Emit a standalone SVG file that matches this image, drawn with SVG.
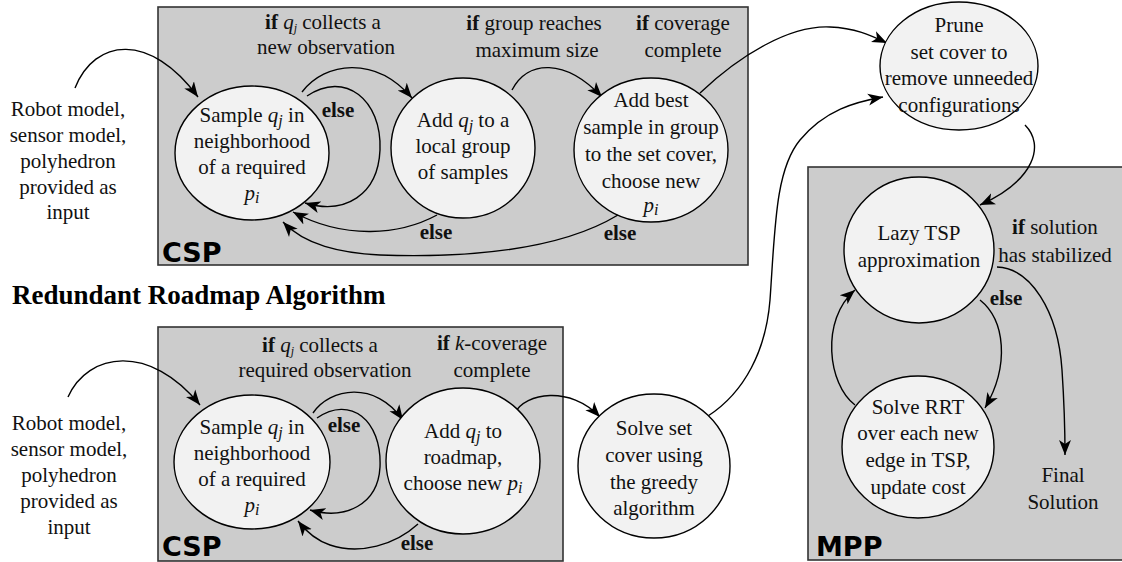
<svg xmlns="http://www.w3.org/2000/svg" width="1122" height="562" viewBox="0 0 1122 562">
<defs>
<marker id="arr" markerUnits="userSpaceOnUse" markerWidth="16" markerHeight="14" viewBox="0 0 16 14" refX="15" refY="7" orient="auto">
<path d="M0,1 L15,7 L0,13 L4,7 Z" fill="#000"/>
</marker>
<style>
.box{fill:#cccccc;stroke:#333;stroke-width:1.6}
.node{fill:#f2f2f2;stroke:#000;stroke-width:1.4}
.edge{fill:none;stroke:#000;stroke-width:1.4;marker-end:url(#arr)}
.t{font-family:'Liberation Serif','DejaVu Serif',serif;font-size:21px;fill:#111}
.c{text-anchor:middle}
.b{font-weight:bold}
.i{font-style:italic}
.sub{font-style:italic;font-size:16px}
.ssub{font-style:italic;font-size:12px}
.tag{font-family:'DejaVu Sans',sans-serif;font-weight:bold;font-size:27px;fill:#000}
.title{font-weight:bold;font-size:27px;fill:#000}
</style>
</defs>

<g id="boxes">
<rect id="csp-top" class="box" x="158" y="7" width="590" height="258"/>
<rect id="csp-bottom" class="box" x="158" y="327" width="405" height="234"/>
<rect id="mpp" class="box" x="808" y="167" width="330" height="393"/>
<text class="tag" x="162" y="262">CSP</text>
<text class="tag" x="162" y="556">CSP</text>
<text class="tag" x="816" y="556">MPP</text>
</g>

<g font-family="Liberation Serif, DejaVu Serif, serif" font-size="21">
<text class="t title" x="12" y="304">Redundant Roadmap Algorithm</text>

<g id="input-top">
<text class="t c" x="68" y="116">Robot model,</text>
<text class="t c" x="68" y="142">sensor model,</text>
<text class="t c" x="68" y="168">polyhedron</text>
<text class="t c" x="68" y="194">provided as</text>
<text class="t c" x="68" y="219">input</text>
</g>

<g id="input-bottom">
<text class="t c" x="69" y="430">Robot model,</text>
<text class="t c" x="69" y="456">sensor model,</text>
<text class="t c" x="69" y="482">polyhedron</text>
<text class="t c" x="69" y="508">provided as</text>
<text class="t c" x="69" y="534">input</text>
</g>

<g id="connectors">
<path class="edge" d="M75,88 C95,38 150,32 198,97"/>
<path class="edge" d="M302,92 C325,62 375,55 412,98"/>
<path class="edge" d="M307,96 C345,70 382,100 380,150 C378,195 345,215 305,203"/>
<path class="edge" d="M437,215 C400,235 345,240 293,212"/>
<path class="edge" d="M618,215 C560,250 470,258 380,255 C340,253 305,245 283,222"/>
<path class="edge" d="M512,90 C528,60 565,58 602,97"/>
<path class="edge" d="M700,93 C740,55 790,25 830,27 C855,28 870,35 887,43"/>
<path class="edge" d="M708,416 C745,392 766,350 770,300 C775,230 775,170 800,140 C825,110 855,102 883,97"/>
<path class="edge" d="M1025,125 C1045,145 1035,180 980,205"/>
<path class="edge" d="M997,267 C1030,268 1058,310 1062,370 C1064,400 1065,430 1065,455"/>
<path class="edge" d="M980,300 C1005,320 1010,365 985,408"/>
<path class="edge" d="M855,405 C828,385 820,320 855,290"/>
<path class="edge" d="M68,397 C88,352 150,343 200,405"/>
<path class="edge" d="M313,413 C330,388 375,380 403,420"/>
<path class="edge" d="M317,418 C350,395 382,420 380,467 C378,505 345,520 310,510"/>
<path class="edge" d="M418,524 C395,545 360,555 330,545 C315,540 305,530 298,521"/>
<path class="edge" d="M515,413 C525,393 570,385 600,417"/>
</g>

<g id="labels">
<text class="t c" x="323" y="29"><tspan class="b">if</tspan> <tspan class="i">q</tspan><tspan class="ssub" dy="3">j</tspan><tspan dy="-3"> collects a</tspan></text>
<text class="t c" x="326" y="54">new observation</text>
<text class="t c" x="534" y="30"><tspan class="b">if</tspan> group reaches</text>
<text class="t c" x="537" y="57">maximum size</text>
<text class="t c" x="683" y="30"><tspan class="b">if</tspan> coverage</text>
<text class="t c" x="683" y="57">complete</text>
<text class="t c b" x="338" y="117">else</text>
<text class="t c b" x="436" y="239">else</text>
<text class="t c b" x="620" y="240">else</text>
<text class="t c" x="1055" y="234"><tspan class="b">if</tspan> solution</text>
<text class="t c" x="1055" y="262">has stabilized</text>
<text class="t c b" x="1006" y="305">else</text>
<text class="t c" x="1063" y="482">Final</text>
<text class="t c" x="1063" y="509">Solution</text>
<text class="t c" x="320" y="352"><tspan class="b">if</tspan> <tspan class="i">q</tspan><tspan class="ssub" dy="3">j</tspan><tspan dy="-3"> collects a</tspan></text>
<text class="t c" x="325" y="377">required observation</text>
<text class="t c" x="492" y="350"><tspan class="b">if</tspan> <tspan class="i">k</tspan>-coverage</text>
<text class="t c" x="492" y="377">complete</text>
<text class="t c b" x="344" y="432">else</text>
<text class="t c b" x="417" y="550">else</text>
</g>

<g id="node-sample-top">
<ellipse class="node" cx="252" cy="153" rx="77" ry="67"/>
<text class="t c" x="252" y="122">Sample <tspan class="i">q</tspan><tspan class="sub" dy="4">j</tspan><tspan dy="-4"> in</tspan></text>
<text class="t c" x="252" y="148">neighborhood</text>
<text class="t c" x="252" y="174">of a required</text>
<text class="t c" x="252" y="200"><tspan class="i">p</tspan><tspan class="sub" dy="3">i</tspan></text>
</g>

<g id="node-local-group">
<ellipse class="node" cx="463" cy="148" rx="72" ry="70"/>
<text class="t c" x="463" y="127">Add <tspan class="i">q</tspan><tspan class="sub" dy="4">j</tspan><tspan dy="-4"> to a</tspan></text>
<text class="t c" x="463" y="153">local group</text>
<text class="t c" x="463" y="179">of samples</text>
</g>

<g id="node-best-sample">
<ellipse class="node" cx="651" cy="150" rx="77" ry="72"/>
<text class="t c" x="651" y="107">Add best</text>
<text class="t c" x="651" y="134">sample in group</text>
<text class="t c" x="651" y="161">to the set cover,</text>
<text class="t c" x="651" y="188">choose new</text>
<text class="t c" x="651" y="212"><tspan class="i">p</tspan><tspan class="sub" dy="3">i</tspan></text>
</g>

<g id="node-prune">
<ellipse class="node" cx="959" cy="66" rx="79" ry="64"/>
<text class="t c" x="959" y="32">Prune</text>
<text class="t c" x="959" y="59">set cover to</text>
<text class="t c" x="959" y="85">remove unneeded</text>
<text class="t c" x="959" y="112">configurations</text>
</g>

<g id="node-lazy-tsp">
<ellipse class="node" cx="919" cy="250" rx="75" ry="73"/>
<text class="t c" x="919" y="240">Lazy TSP</text>
<text class="t c" x="919" y="267">approximation</text>
</g>

<g id="node-rrt">
<ellipse class="node" cx="918" cy="447" rx="76" ry="71"/>
<text class="t c" x="918" y="414">Solve RRT</text>
<text class="t c" x="918" y="440">over each new</text>
<text class="t c" x="918" y="467">edge in TSP,</text>
<text class="t c" x="918" y="494">update cost</text>
</g>

<g id="node-sample-bottom">
<ellipse class="node" cx="252" cy="462" rx="78" ry="67"/>
<text class="t c" x="252" y="434">Sample <tspan class="i">q</tspan><tspan class="sub" dy="4">j</tspan><tspan dy="-4"> in</tspan></text>
<text class="t c" x="252" y="460">neighborhood</text>
<text class="t c" x="252" y="486">of a required</text>
<text class="t c" x="252" y="512"><tspan class="i">p</tspan><tspan class="sub" dy="3">i</tspan></text>
</g>

<g id="node-roadmap">
<ellipse class="node" cx="463" cy="461" rx="77" ry="73"/>
<text class="t c" x="463" y="438">Add <tspan class="i">q</tspan><tspan class="sub" dy="4">j</tspan><tspan dy="-4"> to</tspan></text>
<text class="t c" x="463" y="464">roadmap,</text>
<text class="t c" x="463" y="490">choose new <tspan class="i">p</tspan><tspan class="sub" dy="3">i</tspan></text>
</g>

<g id="node-greedy">
<ellipse class="node" cx="654" cy="466" rx="76" ry="72"/>
<text class="t c" x="654" y="435">Solve set</text>
<text class="t c" x="654" y="462">cover using</text>
<text class="t c" x="654" y="489">the greedy</text>
<text class="t c" x="654" y="515">algorithm</text>
</g>
</g>
</svg>
